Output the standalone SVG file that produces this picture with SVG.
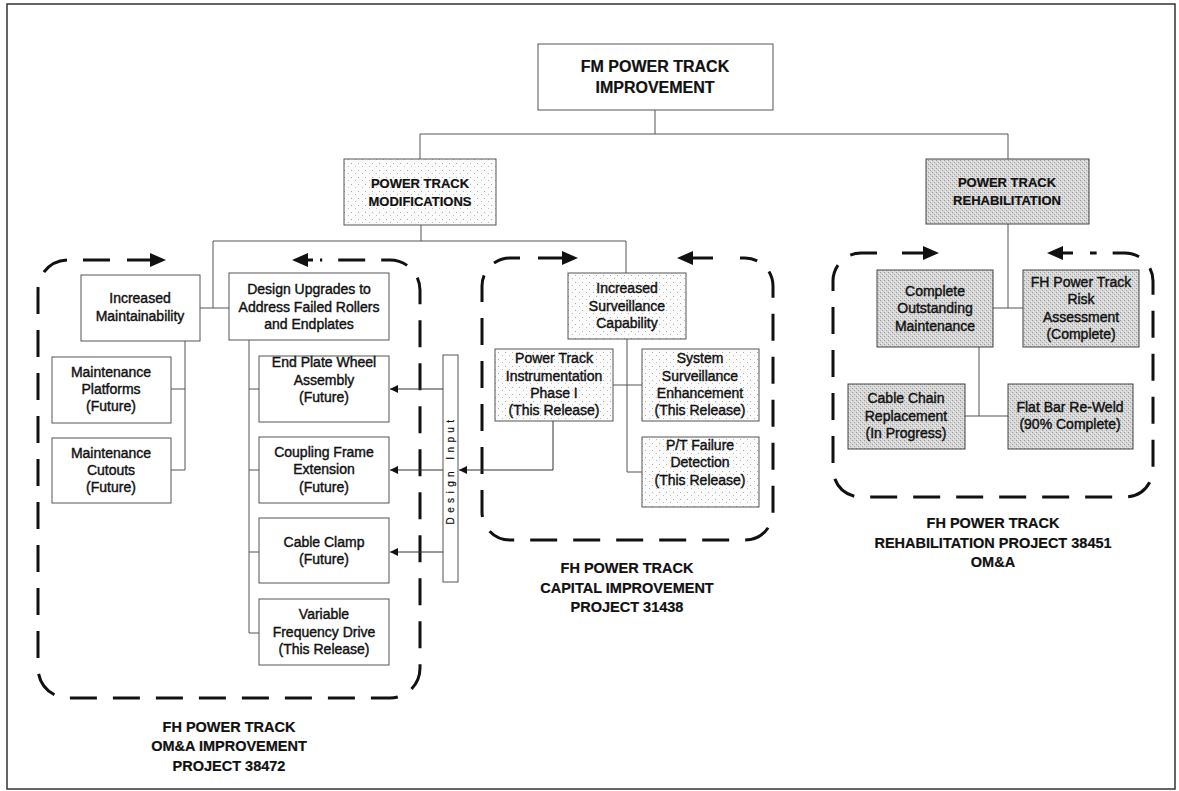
<svg xmlns="http://www.w3.org/2000/svg" width="1179" height="791" viewBox="0 0 1179 791">
<defs>
<style>
.t{font-family:"Liberation Sans",Arial,sans-serif;font-size:14px;fill:#111;text-anchor:middle;stroke:#111;stroke-width:0.4}
.h{font-weight:bold;font-size:16px;stroke-width:0.2}
.m{font-weight:bold;font-size:13px;stroke-width:0.2}
.lbl{font-weight:bold;font-size:14.5px;stroke-width:0.2}
.di{font-size:10px;letter-spacing:4.4px;stroke-width:0.2}
.box{fill:#fff;stroke:#555;stroke-width:1}
.lt{fill:url(#light);stroke:#555;stroke-width:1}
.dk{fill:url(#dark);stroke:#444;stroke-width:1}
.ln{fill:none;stroke:#555;stroke-width:1}
.ar{fill:none;stroke:#333;stroke-width:1;marker-end:url(#sa)}
.dash{fill:none;stroke:#111;stroke-width:3;stroke-dasharray:27 16}
.sh{fill:none;stroke:#111;stroke-width:3}
.hd{fill:#111}
</style>
<pattern id="light" width="7" height="7" patternUnits="userSpaceOnUse">
<rect width="7" height="7" fill="#fbfbfb"/>
<rect x="1" y="2" width="1" height="1" fill="#aaa"/>
<rect x="5" y="5" width="1" height="1" fill="#bbb"/>
</pattern>
<pattern id="dark" width="4" height="4" patternUnits="userSpaceOnUse">
<rect width="4" height="4" fill="#d6d6d6"/>
<rect x="0" y="0" width="1" height="1" fill="#9a9a9a"/>
<rect x="2" y="2" width="1" height="1" fill="#a5a5a5"/>
<rect x="3" y="1" width="1" height="1" fill="#eee"/>
<rect x="1" y="3" width="1" height="1" fill="#eee"/>
</pattern>
<marker id="sa" viewBox="0 0 10 10" refX="10" refY="5" markerWidth="9" markerHeight="8" markerUnits="userSpaceOnUse" orient="auto">
<path d="M0,0 L10,5 L0,10 z" fill="#111"/>
</marker>
</defs>
<rect x="0" y="0" width="1179" height="791" fill="#fff"/>
<rect x="7" y="4" width="1168" height="785" fill="none" stroke="#333" stroke-width="1.5"/>

<g id="regions">
<path class="dash" d="M110 260 L68 260 A30 30 0 0 0 38 290 L38 668 A30 30 0 0 0 68 698 L390 698 A30 30 0 0 0 420 668 L420 290 A30 30 0 0 0 390 260 L320 260"/>
<path class="sh" d="M127 260 H152"/><polygon class="hd" points="150,253 166,260 150,267"/>
<path class="sh" d="M306 260 H313"/><polygon class="hd" points="292,260 308,253 308,267"/>
<path class="dash" d="M520 258 L510 258 A28 28 0 0 0 482 286 L482 512 A28 28 0 0 0 510 540 L745 540 A28 28 0 0 0 773 512 L773 286 A28 28 0 0 0 745 258 L740 258"/>
<path class="sh" d="M538 258 H564"/><polygon class="hd" points="562,251 578,258 562,265"/>
<path class="sh" d="M691 258 H713"/><polygon class="hd" points="677,258 693,251 693,265"/>
<path class="dash" d="M877 253 L861 253 A28 28 0 0 0 833 281 L833 469 A28 28 0 0 0 861 497 L1125 497 A28 28 0 0 0 1153 469 L1153 281 A28 28 0 0 0 1125 253 L1090 253"/>
<path class="sh" d="M902 253 H925"/><polygon class="hd" points="923,246 939,253 923,260"/>
<path class="sh" d="M1061 253 H1073"/><polygon class="hd" points="1047,253 1063,246 1063,260"/>
</g>

<g id="connectors">
<path class="ln" d="M655 110 V134 M420 134 H1008 M420 134 V159 M1008 134 V159"/>
<path class="ln" d="M421 225 V241 M213 241 H626 M213 241 V308 M200 308 H229 M626 241 V273"/>
<path class="ln" d="M185 341 V470 M171 389 H185 M171 470 H185"/>
<path class="ln" d="M249 340 V633 H259 M249 389 H259 M249 470 H259 M249 552 H259"/>
<path class="ar" d="M443 389 H390"/>
<path class="ar" d="M443 470 H390"/>
<path class="ar" d="M443 552 H390"/>
<path class="ar" d="M553 421 V470 H459"/>
<path class="ln" d="M627 339 V472 H642 M613 385 H642"/>
<path class="ln" d="M1008 224 V308 M993 308 H1023"/>
<path class="ln" d="M979 347 V416 M965 416 H1008"/>
</g>

<g id="n-top"><rect class="box" x="538" y="44" width="235" height="66"/>
<text class="t h" x="655" y="72">FM POWER TRACK</text><text class="t h" x="655" y="93">IMPROVEMENT</text></g>

<g id="n-mod"><rect class="lt" x="344" y="159" width="152" height="66"/>
<text class="t m" x="420" y="188">POWER TRACK</text><text class="t m" x="420" y="206">MODIFICATIONS</text></g>

<g id="n-rehab"><rect class="dk" x="926" y="159" width="163" height="65"/>
<text class="t m" x="1007" y="187">POWER TRACK</text><text class="t m" x="1007" y="205">REHABILITATION</text></g>

<g id="n-im"><rect class="box" x="81" y="275" width="119" height="66"/>
<text class="t" x="140" y="303">Increased</text><text class="t" x="140" y="321">Maintainability</text></g>

<g id="n-du"><rect class="box" x="229" y="273" width="160" height="67"/>
<text class="t" x="309" y="294">Design Upgrades to</text><text class="t" x="309" y="312">Address Failed Rollers</text><text class="t" x="309" y="329">and Endplates</text></g>

<g id="n-mp"><rect class="box" x="52" y="357" width="119" height="66"/>
<text class="t" x="111" y="377">Maintenance</text><text class="t" x="111" y="394">Platforms</text><text class="t" x="111" y="411">(Future)</text></g>

<g id="n-mc"><rect class="box" x="52" y="438" width="119" height="65"/>
<text class="t" x="111" y="458">Maintenance</text><text class="t" x="111" y="475">Cutouts</text><text class="t" x="111" y="492">(Future)</text></g>

<g id="n-ep"><rect class="box" x="259" y="356" width="130" height="66"/>
<text class="t" x="324" y="367">End Plate Wheel</text><text class="t" x="324" y="385">Assembly</text><text class="t" x="324" y="402">(Future)</text></g>

<g id="n-cf"><rect class="box" x="259" y="437" width="130" height="66"/>
<text class="t" x="324" y="457">Coupling Frame</text><text class="t" x="324" y="474">Extension</text><text class="t" x="324" y="492">(Future)</text></g>

<g id="n-cc"><rect class="box" x="259" y="518" width="130" height="65"/>
<text class="t" x="324" y="547">Cable Clamp</text><text class="t" x="324" y="564">(Future)</text></g>

<g id="n-vfd"><rect class="box" x="259" y="599" width="130" height="66"/>
<text class="t" x="324" y="619">Variable</text><text class="t" x="324" y="637">Frequency Drive</text><text class="t" x="324" y="654">(This Release)</text></g>

<g id="n-di"><rect class="box" x="443" y="355" width="15" height="227"/>
<text class="t di" transform="translate(454,470) rotate(-90)" x="0" y="0">Design Input</text></g>

<g id="n-isc"><rect class="lt" x="568" y="273" width="118" height="66"/>
<text class="t" x="627" y="293">Increased</text><text class="t" x="627" y="311">Surveillance</text><text class="t" x="627" y="328">Capability</text></g>

<g id="n-pti"><rect class="lt" x="495" y="349" width="118" height="72"/>
<text class="t" x="554" y="363">Power Track</text><text class="t" x="554" y="381">Instrumentation</text><text class="t" x="554" y="398">Phase I</text><text class="t" x="554" y="415">(This Release)</text></g>

<g id="n-sse"><rect class="lt" x="642" y="349" width="117" height="72"/>
<text class="t" x="700" y="363">System</text><text class="t" x="700" y="381">Surveillance</text><text class="t" x="700" y="398">Enhancement</text><text class="t" x="700" y="415">(This Release)</text></g>

<g id="n-ptf"><rect class="lt" x="642" y="437" width="117" height="70"/>
<text class="t" x="700" y="450">P/T Failure</text><text class="t" x="700" y="467">Detection</text><text class="t" x="700" y="485">(This Release)</text></g>

<g id="n-com"><rect class="dk" x="877" y="270" width="116" height="77"/>
<text class="t" x="935" y="296">Complete</text><text class="t" x="935" y="313">Outstanding</text><text class="t" x="935" y="331">Maintenance</text></g>

<g id="n-risk"><rect class="dk" x="1023" y="270" width="116" height="77"/>
<text class="t" x="1081" y="287">FH Power Track</text><text class="t" x="1081" y="304">Risk</text><text class="t" x="1081" y="322">Assessment</text><text class="t" x="1081" y="339">(Complete)</text></g>

<g id="n-ccr"><rect class="dk" x="848" y="384" width="117" height="65"/>
<text class="t" x="906" y="403">Cable Chain</text><text class="t" x="906" y="421">Replacement</text><text class="t" x="906" y="438">(In Progress)</text></g>

<g id="n-fb"><rect class="dk" x="1008" y="384" width="125" height="65"/>
<text class="t" x="1070" y="412">Flat Bar Re-Weld</text><text class="t" x="1070" y="429">(90% Complete)</text></g>

<g id="labels">
<text class="t lbl" x="229" y="732">FH POWER TRACK</text>
<text class="t lbl" x="229" y="751">OM&amp;A IMPROVEMENT</text>
<text class="t lbl" x="229" y="771">PROJECT 38472</text>
<text class="t lbl" x="627" y="573">FH POWER TRACK</text>
<text class="t lbl" x="627" y="593">CAPITAL IMPROVEMENT</text>
<text class="t lbl" x="627" y="612">PROJECT 31438</text>
<text class="t lbl" x="993" y="528">FH POWER TRACK</text>
<text class="t lbl" x="993" y="548">REHABILITATION PROJECT 38451</text>
<text class="t lbl" x="993" y="567">OM&amp;A</text>
</g>
</svg>
